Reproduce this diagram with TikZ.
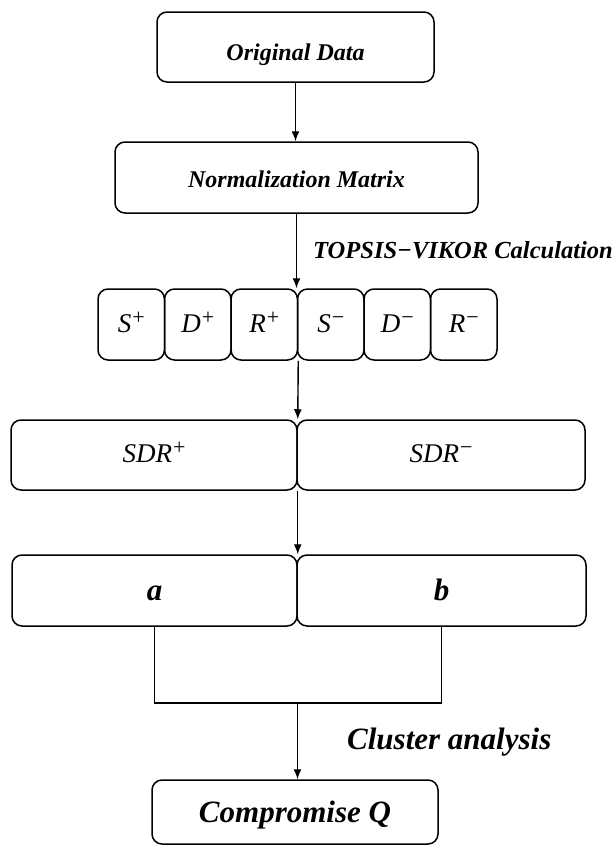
\RequirePackage{fix-cm}
\documentclass[tikz,border=0pt]{standalone}
\usepackage{fontspec}
\setmainfont{Liberation Serif}
\usetikzlibrary{arrows.meta}
\newcommand\mysup[1]{\kern1pt\raisebox{8pt}{\fontsize{22}{22}\selectfont\upshape #1}}
\begin{document}
\begin{tikzpicture}[x=1pt,y=-1pt,
  box/.style={draw,line width=1.5pt,rounded corners=10pt,inner sep=0pt},
  arr/.style={line width=1.4pt,-{Latex[length=10pt,width=8pt]}},
  conn/.style={line width=1.4pt},
  labm/.style={font=\fontsize{24}{28}\selectfont\bfseries\itshape},
  labl/.style={font=\fontsize{31}{35}\selectfont\bfseries\itshape,text height=20pt,text depth=0pt},
  mth/.style={font=\fontsize{27}{31}\selectfont\itshape,text height=15pt,text depth=0pt},
  sm/.style={box,mth,minimum width=66.5pt,minimum height=71pt}]
\useasboundingbox (0,0) rectangle (615,846);
\node[box,labm,text height=26pt,text depth=0pt,minimum width=277pt,minimum height=70pt] (orig) at (295.5,47) {Original Data};
\node[box,labm,text height=19pt,text depth=0pt,minimum width=363pt,minimum height=71pt] (norm) at (296.5,177.5) {Normalization Matrix};
\node[labm,font=\fontsize{24.5}{28}\selectfont\bfseries\itshape,anchor=base west,inner sep=0pt] (tv) at (313,258) {TOPSIS−VIKOR Calculation};
\node[sm] (Sp) at (131.25,324.5) {S\mysup{+}};
\node[sm] (Dp) at (197.75,324.5) {D\mysup{+}};
\node[sm] (Rp) at (264.25,324.5) {R\mysup{+}};
\node[sm] (Sm) at (330.75,324.5) {S\mysup{−}};
\node[sm] (Dm) at (397.25,324.5) {D\mysup{−}};
\node[sm] (Rm) at (463.75,324.5) {R\mysup{−}};
\node[box,mth,minimum width=286pt,minimum height=70pt] (sdrp) at (154,455) {SDR\mysup{+}};
\node[box,mth,minimum width=288pt,minimum height=70pt] (sdrm) at (441,455) {SDR\mysup{−}};
\node[box,labl,minimum width=285pt,minimum height=71pt] (a) at (154.5,590.5) {a};
\node[box,labl,minimum width=289pt,minimum height=71pt] (b) at (441.5,590.5) {b};
\node[box,labl,minimum width=286pt,minimum height=64pt] (cq) at (295,812) {Compromise Q};
\node[labl,text height=,text depth=,anchor=base west,inner sep=0pt] (ca) at (347,749) {Cluster analysis};
\coordinate (join) at (297.5,703);
\draw[arr] (orig.south) -- (orig.south |- norm.north);
\draw[arr] (norm.south) -- (norm.south |- Rp.north);
\draw[arr] (Rp.south east) -- (sdrp.north east);
\draw[arr] (sdrp.south east) -- (a.north east);
\draw[conn] (a.south) |- (join) -| (b.south);
\draw[arr] (join) -- (join |- cq.north);
\end{tikzpicture}
\end{document}
